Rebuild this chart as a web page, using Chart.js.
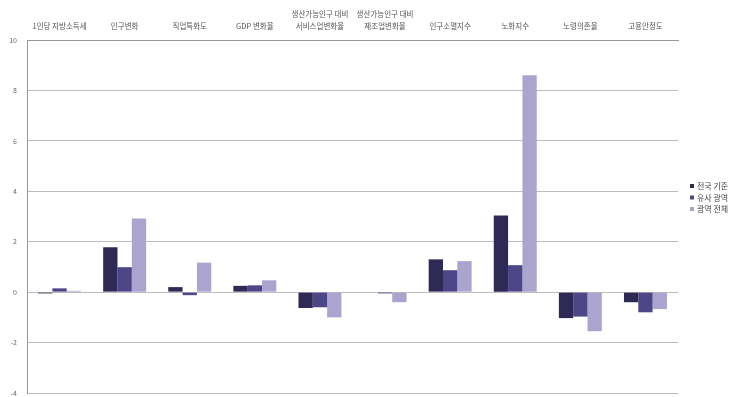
<!DOCTYPE html>
<html><head><meta charset="utf-8">
<script src="https://cdn.jsdelivr.net/npm/chart.js@4"></script>
<style>html,body{margin:0;padding:0;background:#fff}#wrap{width:750px;height:397px}</style>
</head><body><div id="wrap"><canvas id="c" width="750" height="397"></canvas></div>
<script>
const categories = [
  "1인당 지방소득세", "인구변화", "직업특화도", "GDP 변화율",
  ["생산가능인구 대비", "서비스업변화율"], ["생산가능인구 대비", "제조업변화율"],
  "인구소멸지수", "노화지수", "노령의존율", "고용안정도"
];
const seriesNames = ["전국 기준", "유사 광역", "광역 전체"];
const nationalValues = [-0.05, 1.78, 0.2, 0.25, -0.63, -0.02, 1.3, 3.04, -1.03, -0.4];
const similarValues  = [0.15, 0.99, -0.12, 0.27, -0.6, -0.05, 0.87, 1.07, -0.97, -0.8];
const allValues      = [0.05, 2.92, 1.17, 0.47, -1.0, -0.4, 1.23, 8.6, -1.55, -0.67];
const yTicks = [-4, -2, 0, 2, 4, 6, 8, 10];
const colors = ["#2f2a55", "#4d4687", "#aaa4cf"];

const font = "'Noto Sans CJK KR', 'Noto Sans', sans-serif";
const legendPlugin = {
  id: 'sideLegend',
  afterDraw(chart) {
    const ctx = chart.ctx;
    ctx.save();
    ctx.font = "8px " + font;
    ctx.textBaseline = 'middle';
    chart.data.datasets.forEach((ds, i) => {
      const y = 186 + i * 11.5;
      ctx.fillStyle = ds.backgroundColor;
      ctx.fillRect(690, y - 2, 4, 4);
      ctx.fillStyle = '#444';
      ctx.fillText(ds.label, 697, y);
    });
    ctx.restore();
  }
};

new Chart(document.getElementById('c'), {
  type: 'bar',
  data: {
    labels: categories,
    datasets: [
      { label: seriesNames[0], data: nationalValues, backgroundColor: colors[0] },
      { label: seriesNames[1], data: similarValues, backgroundColor: colors[1] },
      { label: seriesNames[2], data: allValues, backgroundColor: colors[2] }
    ]
  },
  options: {
    responsive: false,
    animation: false,
    devicePixelRatio: 1,
    layout: { padding: { left: 0, right: 72, top: 0, bottom: 4 } },
    plugins: { legend: { display: false }, tooltip: { enabled: false } },
    datasets: { bar: { barPercentage: 1, categoryPercentage: 0.66 } },
    scales: {
      x: {
        position: 'top',
        grid: { display: false, drawTicks: false },
        border: { display: true, color: '#999' },
        ticks: { font: { family: font, size: 7.5, lineHeight: 1.6 }, color: '#555', padding: 8, maxRotation: 0, autoSkip: false },
        afterFit(s) { s.height = 40; s.paddingLeft = 0; s.paddingRight = 0; }
      },
      y: {
        min: -4, max: 10,
        afterBuildTicks(s) { s.ticks = yTicks.map(v => ({ value: v })); },
        grid: { color: '#bdbdbd', drawTicks: false },
        border: { display: true, color: '#999' },
        ticks: { font: { family: font, size: 7 }, color: '#666', padding: 10 },
        afterFit(s) { s.width = 27; s.paddingTop = 0; s.paddingBottom = 0; }
      }
    }
  },
  plugins: [legendPlugin]
});
</script></body></html>
